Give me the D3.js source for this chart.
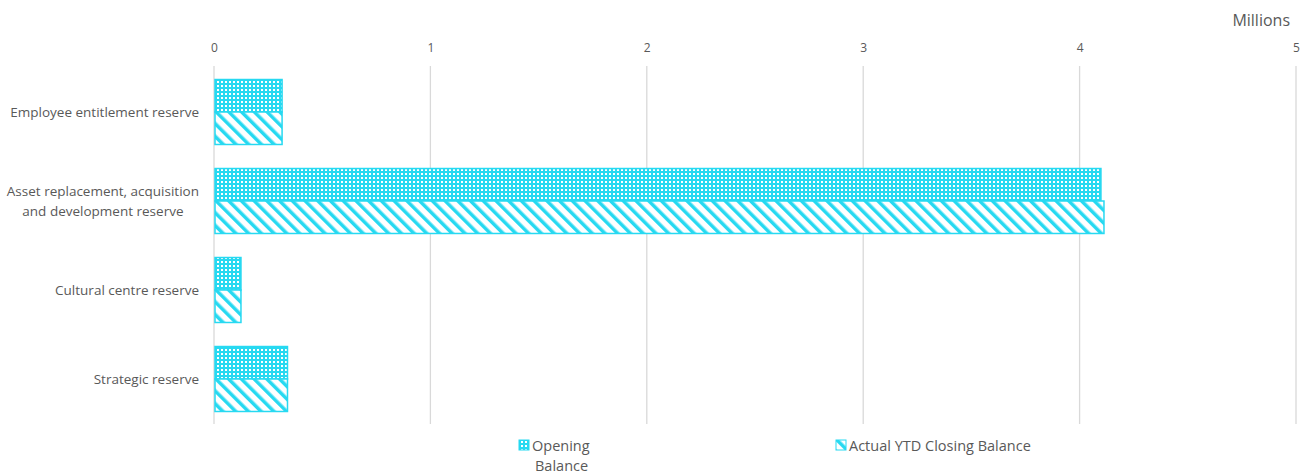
<!DOCTYPE html>
<html>
<head>
<meta charset="utf-8">
<script src="https://cdn.jsdelivr.net/npm/d3@7"></script>
<style>
  body { margin: 0; background: #fff; }
  text { font-family: "Open Sans", "Liberation Sans", sans-serif; fill: #595959; }
</style>
</head>
<body>
<div id="chart"></div>
<script>
const categories = [
    ['Employee entitlement reserve'],
    ['Asset replacement, acquisition', 'and development reserve'],
    ['Cultural centre reserve'],
    ['Strategic reserve']
];
const seriesNames = ['Opening Balance', 'Actual YTD Closing Balance'];
const openingBalance = [0.31, 4.094, 0.12, 0.335];
const closingBalance = [0.31, 4.108, 0.12, 0.335];
const xTicks = [0, 1, 2, 3, 4, 5];

const W = 1303, H = 474;
const margin = {top: 67, right: 7, bottom: 50, left: 214};
const cyan = '#27d9f1';

const svg = d3.select('#chart').append('svg')
    .attr('width', W).attr('height', H);

// patterns
const defs = svg.append('defs');
const dots = defs.append('pattern')
    .attr('id', 'dots').attr('patternUnits', 'userSpaceOnUse')
    .attr('width', 4).attr('height', 4);
dots.append('rect').attr('width', 4).attr('height', 4).attr('fill', cyan);
dots.append('rect').attr('x', 1).attr('y', 1).attr('width', 2).attr('height', 2).attr('fill', '#fff');

const stripes = defs.append('pattern')
    .attr('id', 'stripes').attr('patternUnits', 'userSpaceOnUse')
    .attr('width', 9).attr('height', 9)
    .attr('patternTransform', 'rotate(-45)');
stripes.append('rect').attr('width', 9).attr('height', 9).attr('fill', '#fff');
stripes.append('rect').attr('width', 3.5).attr('height', 9).attr('fill', cyan);

const x = d3.scaleLinear()
    .domain([0, 5])
    .range([margin.left, W - margin.right]);

const y = d3.scaleBand()
    .domain(d3.range(categories.length))
    .range([67.5, 423.5])
    .paddingInner(0.27).paddingOuter(0.135);

const sub = d3.scaleBand()
    .domain([0, 1])
    .range([0, y.bandwidth()]);

// gridlines
svg.append('g').selectAll('line')
    .data(xTicks)
    .enter().append('line')
    .attr('x1', d => x(d)).attr('x2', d => x(d))
    .attr('y1', margin.top - 1).attr('y2', 424)
    .attr('stroke', '#d9d9d9').attr('stroke-width', 1.3);

// axis on top
const axis = svg.append('g')
    .attr('transform', `translate(0, ${margin.top})`)
    .call(d3.axisTop(x).tickValues(xTicks).tickFormat(d3.format('d')).tickSize(0).tickPadding(15));
axis.select('.domain').remove();
axis.selectAll('text')
    .style('font-size', '12px')
    .style('font-family', '"Open Sans", sans-serif')
    .attr('fill', '#595959');

svg.append('text')
    .attr('x', 1290).attr('y', 26)
    .attr('text-anchor', 'end')
    .style('font-size', '16px')
    .text('Millions');

// bars
const series = [
    {values: openingBalance, fill: 'url(#dots)'},
    {values: closingBalance, fill: 'url(#stripes)'}
];
series.forEach((s, si) => {
    svg.append('g').selectAll('rect')
        .data(s.values)
        .enter().append('rect')
        .attr('x', x(0) + 1)
        .attr('y', (d, i) => y(i) + sub(si))
        .attr('width', d => x(d) - x(0))
        .attr('height', sub.bandwidth())
        .attr('fill', s.fill)
        .attr('stroke', cyan)
        .attr('stroke-width', 1.5);
});

// category labels: block right-aligned, lines centred within block
const labels = svg.append('g').selectAll('text')
    .data(categories)
    .enter().append('text')
    .attr('text-anchor', 'middle')
    .style('font-size', '13.5px')
    .attr('transform', (d, i) => `translate(0, ${y(i) + y.bandwidth() / 2 + 5 - (d.length - 1) * 10})`);
labels.selectAll('tspan')
    .data(d => d)
    .enter().append('tspan')
    .attr('x', 0)
    .attr('dy', (d, i) => i === 0 ? 0 : 20)
    .text(d => d);
labels.each(function () {
    const w = this.getBBox().width;
    d3.select(this).selectAll('tspan').attr('x', 199 - w / 2);
});

// legend
const legend = [
    {x: 519, lines: ['Opening', 'Balance'], fill: 'url(#dots)'},
    {x: 836, lines: ['Actual YTD Closing Balance'], fill: 'url(#stripes)'}
];
legend.forEach(l => {
    svg.append('rect')
        .attr('x', l.x).attr('y', 440)
        .attr('width', 10).attr('height', 10)
        .attr('fill', l.fill).attr('stroke', cyan).attr('stroke-width', 1);
    l.lines.forEach((line, j) => {
        svg.append('text')
            .attr('x', l.x + 13 + (j === 0 ? 0 : 3))
            .attr('y', 451 + j * 20)
            .style('font-size', '14.5px')
            .text(line);
    });
});
</script>
</body>
</html>
